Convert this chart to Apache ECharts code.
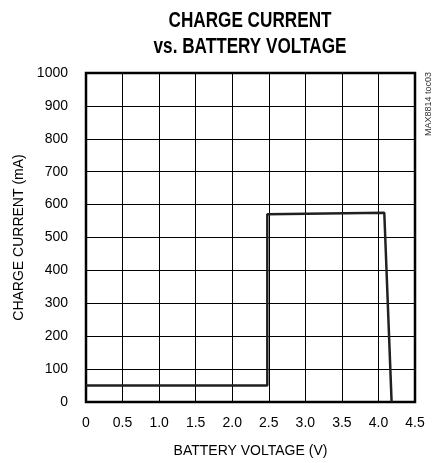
<!DOCTYPE html>
<html><head><meta charset="utf-8">
<script src="https://cdn.jsdelivr.net/npm/echarts@6/dist/echarts.min.js"></script>
<style>html,body{margin:0;padding:0;background:#fff}#c{width:436px;height:463px}</style>
</head><body><div id="c"></div>
<script>
var voltage = [0, 2.48, 2.48, 4.08, 4.18];
var current = [50, 50, 571, 575, 0];
var xTicks = ['0','0.5','1.0','1.5','2.0','2.5','3.0','3.5','4.0','4.5'];
var yTicks = ['0','100','200','300','400','500','600','700','800','900','1000'];
var titleLines = ['CHARGE CURRENT', 'vs. BATTERY VOLTAGE'];

var FONT = '"Liberation Sans", Arial, sans-serif';
var chart = echarts.init(document.getElementById('c'));
var pts = voltage.map(function(v,i){return [v, current[i]];});
chart.setOption({
  animation:false,
  grid:{left:86, right:21, top:73, bottom:61, show:true, borderColor:'#000', borderWidth:2.5, backgroundColor:'transparent'},
  xAxis:{type:'value', min:0, max:4.5, interval:0.5,
    name:'BATTERY VOLTAGE (V)', nameLocation:'middle', nameGap:42,
    nameTextStyle:{fontFamily:FONT, fontSize:14, color:'#000'},
    axisLine:{show:false}, axisTick:{show:false},
    axisLabel:{fontFamily:FONT, fontSize:14, color:'#000', margin:14,
      formatter:function(v){return xTicks[Math.round(v/0.5)];}},
    splitLine:{show:true, lineStyle:{color:'#000', width:1}}},
  yAxis:{type:'value', min:0, max:1000, interval:100,
    name:'CHARGE CURRENT (mA)', nameLocation:'middle', nameGap:55, nameRotate:90,
    nameTextStyle:{fontFamily:FONT, fontSize:14, color:'#000'},
    axisLine:{show:false}, axisTick:{show:false},
    axisLabel:{fontFamily:FONT, fontSize:14, color:'#000', margin:18,
      formatter:function(v){return yTicks[Math.round(v/100)];}},
    splitLine:{show:true, lineStyle:{color:'#000', width:1}}},
  graphic:[
    {type:'text', x:250, y:21, scaleX:0.78, scaleY:1,
      style:{text:titleLines[0], fontFamily:FONT, fontWeight:'bold', fontSize:22, fill:'#000', textAlign:'center', textVerticalAlign:'middle'}},
    {type:'text', x:250, y:47, scaleX:0.78, scaleY:1,
      style:{text:titleLines[1], fontFamily:FONT, fontWeight:'bold', fontSize:22, fill:'#000', textAlign:'center', textVerticalAlign:'middle'}},
    {type:'text', rotation:Math.PI/2, x:424, y:72,
      style:{text:'MAX8814 toc03', fontFamily:FONT, fontSize:9, fill:'#333', textAlign:'right', textVerticalAlign:'top'}}],
  series:[{type:'line', data:pts, showSymbol:false, symbol:'none',
    lineStyle:{color:'#231f20', width:2.5}}]
});
</script></body></html>
